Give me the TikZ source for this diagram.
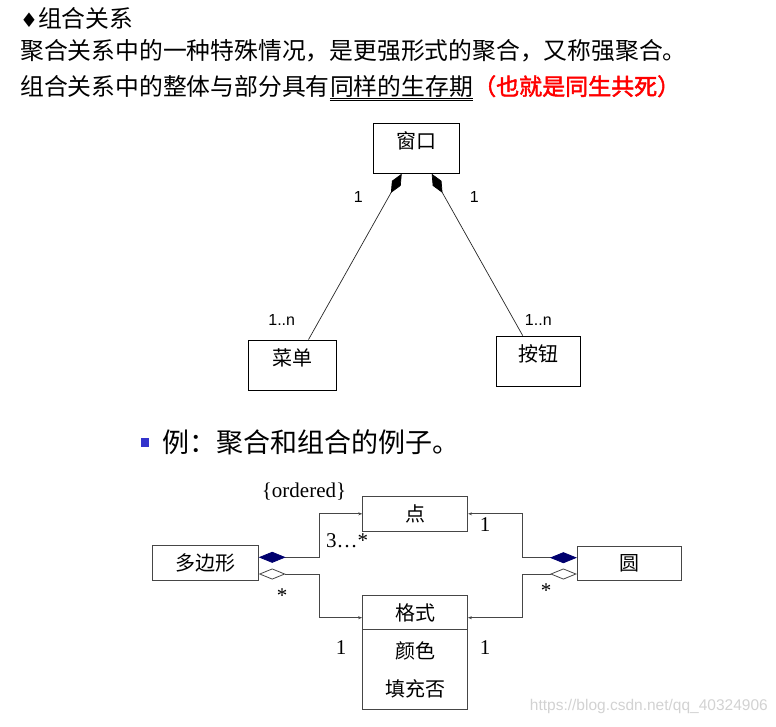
\documentclass[tikz,border=0pt]{standalone}
\usepackage{fontspec}
\usepackage{tikz}
\usepackage{xcolor}
\usetikzlibrary{arrows.meta,positioning}
\setmainfont{Liberation Serif}
\newfontfamily\cjk{Noto Sans CJK SC}
\newfontfamily\cjkbold[FakeBold=2]{Noto Sans CJK SC}
\newfontfamily\arial{Liberation Sans}
\newfontfamily\symb{DejaVu Sans}
\definecolor{navyfill}{RGB}{0,0,110}
\definecolor{bulletblue}{RGB}{51,51,204}
\definecolor{linegray}{RGB}{70,70,70}

\begin{document}
\begin{tikzpicture}[
      x=1pt, y=-1pt,
      textline/.style={anchor=base west, inner sep=0pt,
      font=\cjk\fontsize{23.8}{28}\selectfont},
      box/.style={draw, line width=0.8pt, minimum width=86pt, minimum height=50pt,
      text height=16pt, text depth=16pt, inner sep=0pt,
      font=\cjk\fontsize{20}{24}\selectfont},
      classbox/.style={draw=linegray, line width=0.8pt, minimum height=34.5pt,
      minimum width=105pt, inner sep=0pt, font=\cjk\fontsize{20}{24}\selectfont},
      mult/.style={inner sep=0pt, font=\arial\fontsize{16}{18}\selectfont},
      umlmult/.style={inner sep=0pt, font=\fontsize{21}{24}\selectfont},
      compose/.style={line width=0.7pt, draw=black!85, {Diamond[length=22pt,width=10pt,color=black]}-},
      filledagg/.style={draw=linegray, line width=0.8pt,
      {Diamond[length=27pt,width=11pt,color=navyfill]}-{Stealth[length=4pt,width=3pt]}},
      openagg/.style={draw=linegray, line width=0.8pt,
      {Diamond[open,length=27pt,width=11pt]}-{Stealth[length=4pt,width=3pt]}}
    ]
    \useasboundingbox (0,0) rectangle (776,726);

    % heading text
    \node[textline] (title) at (20,27) {{\symb\fontsize{20}{24}\selectfont ♦}组合关系};
    \node[textline] (intro) at (20,59) {聚合关系中的一种特殊情况，是更强形式的聚合，又称强聚合。};
    \node[textline] (whole) at (20,95) {组合关系中的整体与部分具有};
    \node[textline] (same) at (whole.base east) {同样的生存期};
    \node[textline, text=red, font=\cjkbold\fontsize{23}{28}\selectfont] (samelife)
    at (same.base east) {（也就是同生共死）};
    \draw[line width=0.6pt] ([yshift=-3pt]same.base west) -- ([yshift=-3pt]same.base east);
    \draw[line width=0.6pt] ([yshift=-5.6pt]same.base west) -- ([yshift=-5.6pt]same.base east);

    % window composition
    \node[box] (window) at (416,148.3) {窗口};
    \node[box, minimum width=87.7pt] (menu) at (292.2,365) {菜单};
    \node[box, minimum width=84.7pt] (button) at (538.3,361) {按钮};

    \draw[compose] ([xshift=-14.3pt]window.south) -- ([xshift=16.3pt]menu.north);
    \draw[compose] ([xshift=15.7pt]window.south) -- ([xshift=-15.6pt]button.north);

    \node[mult] (windowleft) at (358.3,196.7) {1};
    \node[mult] (windowright) at (474.3,196.7) {1};
    \node[mult] (menumult) at (281.7,320) {1..n};
    \node[mult] (buttonmult) at (538.3,320) {1..n};

    % example
    \node[fill=bulletblue, minimum width=8pt, minimum height=9pt, inner sep=0pt]
    (bullet) at (144.5,442.5) {};
    \node[inner sep=0pt, right=14pt of bullet, font=\cjk\fontsize{27}{30}\selectfont]
    (example) {例：聚合和组合的例子。};

    \node[classbox, minimum width=105.6pt, minimum height=35.7pt] (polygon)
    at (205.5,562.9) {多边形};
    \node[classbox] (point) at (415.2,513.8) {点};
    \node[classbox, minimum width=104.4pt] (round) at (629.5,563.3) {圆};
    \node[classbox, minimum height=33.3pt] (format) at (415,612.4) {格式};
    \node[classbox, minimum height=80pt, below=0pt of format, align=center,
    font=\cjk\fontsize{20}{38.7}\selectfont] (attrs) {颜色\\填充否};

    \draw[filledagg] ([yshift=5.6pt]polygon.east) -- ++(60.7,0) |- (point.west);
    \draw[openagg] ([yshift=-11.1pt]polygon.east) -- ++(60.7,0)
    |- ([yshift=-5.3pt]format.west);
    \draw[filledagg] ([yshift=5.6pt]round.west) -- ++(-54.6,0) |- (point.east);
    \draw[openagg] ([yshift=-10.7pt]round.west) -- ++(-54.6,0)
    |- ([yshift=-5.3pt]format.east);

    \node[umlmult] (ordered) at (304,492) {\{ordered\}};
    \node[umlmult] (pointmult) at (347,541) {3…*};
    \node[umlmult] (polystar) at (282,596) {*};
    \node[umlmult] (roundone) at (485,525) {1};
    \node[umlmult] (roundstar) at (546,591) {*};
    \node[umlmult] (polyone) at (341,648) {1};
    \node[umlmult] (formatone) at (485,648) {1};

    \node[anchor=east, inner sep=0pt, text=gray!35,
    font=\arial\fontsize{15.5}{18}\selectfont] (mark) at (768,706)
    {https://blog.csdn.net/qq\_40324906};
  \end{tikzpicture}
\end{document}
